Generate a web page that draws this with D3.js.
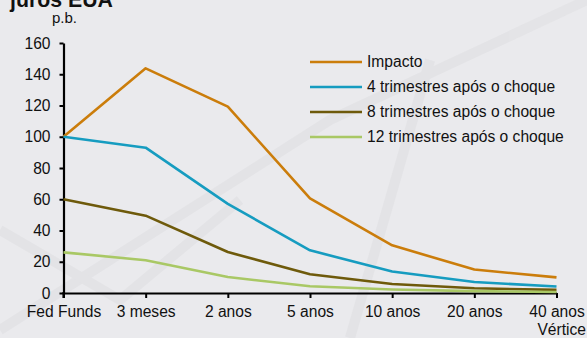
<!DOCTYPE html>
<html>
<head>
<meta charset="utf-8">
<script src="https://cdn.jsdelivr.net/npm/d3@7"></script>
<style>
  html, body { margin: 0; padding: 0; background: #EAEAED; }
  svg { display: block; }
  text { font-family: "Liberation Sans", Arial, sans-serif; fill: #111; }
</style>
</head>
<body>
<script>
const categories = ["Fed Funds", "3 meses", "2 anos", "5 anos", "10 anos", "20 anos", "40 anos"];
const seriesNames = ["Impacto", "4 trimestres após o choque", "8 trimestres após o choque", "12 trimestres após o choque"];
const impacto = [100, 143.8, 119.3, 60.5, 30.5, 15, 10];
const tri4 = [100, 93, 57, 27.3, 13.8, 7, 4.2];
const tri8 = [60, 49.5, 26.2, 12, 5.8, 3, 2];
const tri12 = [26, 21, 10.2, 4.3, 2.2, 1.2, 0.6];
const yTicks = [0, 20, 40, 60, 80, 100, 120, 140, 160];
const colors = ["#CB7D0B", "#169CC0", "#6E5A0B", "#A9C865"];

const W = 587, H = 338;
const svg = d3.select("body").append("svg").attr("width", W).attr("height", H);

// background
svg.append("rect").attr("width", W).attr("height", H).attr("fill", "#EAEAED");
// faint texture
const tex = svg.append("g").attr("stroke", "#E2E2E5").attr("stroke-width", 10).attr("fill", "none").attr("opacity", 0.8);
tex.append("path").attr("d", "M0,330 L330,120 L587,0");
tex.append("path").attr("d", "M0,230 L120,300 L240,200");
tex.append("path").attr("d", "M350,338 L430,60");

const x = d3.scalePoint().domain(categories).range([63.5, 556.5]);
const y = d3.scaleLinear().domain([0, 160]).range([293, 43]);

// title
svg.append("text").attr("x", 10).attr("y", 7).attr("font-size", 21.3).attr("font-weight", "bold").text("juros EUA");
svg.append("text").attr("x", 52).attr("y", 23).attr("font-size", 15).text("p.b.");

// axes
const yAxis = svg.append("g").attr("transform", "translate(63.5,0)")
  .call(d3.axisLeft(y).tickValues(yTicks).tickSizeInner(4).tickSizeOuter(0).tickPadding(9));
const xAxis = svg.append("g").attr("transform", "translate(0,293)")
  .call(d3.axisBottom(x).tickSizeInner(5).tickSizeOuter(0).tickPadding(7.5));
[yAxis, xAxis].forEach(g => {
  g.select(".domain").attr("stroke", "#000").attr("stroke-width", 2.2);
  g.selectAll(".tick line").attr("stroke", "#000").attr("stroke-width", 2);
  g.selectAll(".tick text").attr("font-size", 15.6).attr("fill", "#111")
    .attr("font-family", '"Liberation Sans", Arial, sans-serif');
});
// extend y axis down to meet x-axis tick
svg.append("line").attr("x1", 63.5).attr("x2", 63.5).attr("y1", 292).attr("y2", 298)
  .attr("stroke", "#000").attr("stroke-width", 2.2);

svg.append("text").attr("x", 586).attr("y", 334.5).attr("text-anchor", "end")
  .attr("font-size", 15.6).text("Vértice");

// lines
const data = [impacto, tri4, tri8, tri12];
const line = d3.line().x((d, i) => x(categories[i])).y(d => y(d));
data.forEach((vals, k) => {
  svg.append("path").datum(vals).attr("d", line).attr("fill", "none")
    .attr("stroke", colors[k]).attr("stroke-width", 2.6).attr("stroke-linejoin", "round");
});

// legend
const lg = svg.append("g");
seriesNames.forEach((name, k) => {
  const yy = 62 + k * 25;
  lg.append("line").attr("x1", 310).attr("x2", 362).attr("y1", yy).attr("y2", yy)
    .attr("stroke", colors[k]).attr("stroke-width", 2.6);
  lg.append("text").attr("x", 367).attr("y", yy).attr("dy", "0.35em")
    .attr("font-size", 15.6).text(name);
});
</script>
</body>
</html>
